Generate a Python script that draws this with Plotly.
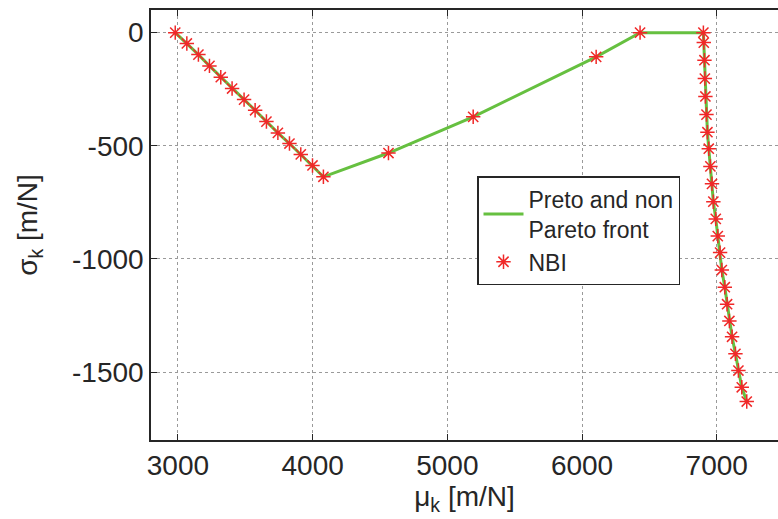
import plotly.graph_objects as go

# Pareto front samples: mu_k and sigma_k in [m/N]
mu_k = [2980, 3066, 3152, 3234, 3318, 3402, 3491, 3573, 3657, 3742, 3828,
        3912, 3999, 4080, 4563, 5192, 6105, 6431, 6901, 6904, 6909, 6912,
        6916, 6924, 6931, 6941, 6953, 6965, 6975, 6993, 7008, 7025, 7038,
        7060, 7077, 7094, 7114, 7139, 7161, 7186, 7223]
sigma_k = [0, -48, -97, -147, -197, -247, -296, -343, -393, -443, -490,
           -538, -587, -637, -532, -372, -107, 0, 0, -44, -122, -203,
           -282, -362, -440, -513, -591, -668, -747, -823, -899, -972, -1049,
           -1125, -1200, -1274, -1344, -1419, -1493, -1567, -1630]

x_ticks = [3000, 4000, 5000, 6000, 7000]
y_ticks = [0, -500, -1000, -1500]
y_tick_text = ["0", "-500", "-1000", "-1500"]

FONT = "Liberation Sans, Arial, sans-serif"
TXT = "#262626"

fig = go.Figure()
fig.add_trace(go.Scatter(
    x=mu_k, y=sigma_k, mode="lines",
    name="Preto and non<br>Pareto front",
    line=dict(color="#66c040", width=3),
))
fig.add_trace(go.Scatter(
    x=mu_k, y=sigma_k, mode="markers", name="NBI",
    marker=dict(symbol="asterisk-open", size=12, color="#f02828",
                line=dict(color="#f02828", width=1.5)),
))

axis_common = dict(
    showline=True, linecolor="#262626", linewidth=1.5,
    ticks="inside", ticklen=6, tickcolor="#262626", tickwidth=1,
    showgrid=True, gridcolor="#9a9a9a", griddash="dot", gridwidth=1,
    zeroline=False,
    tickfont=dict(family=FONT, size=28, color=TXT),
)

fig.update_layout(
    width=778, height=519,
    margin=dict(l=151, r=0, t=10, b=79),
    paper_bgcolor="white", plot_bgcolor="white",
    showlegend=True,
    legend=dict(
        x=(477 - 151) / 627, y=1 - (176 - 10) / 430,
        xanchor="left", yanchor="top",
        bgcolor="white", bordercolor="#262626", borderwidth=1.5,
        font=dict(family=FONT, size=23, color=TXT),
        itemwidth=40, tracegroupgap=0,
    ),
    xaxis=dict(
        **axis_common,
        range=[2800, 7455], tickvals=x_ticks, mirror="allticks",
        title=dict(text="μ<sub>k</sub> [m/N]", standoff=0,
                   font=dict(family=FONT, size=28, color=TXT)),
    ),
    yaxis=dict(
        **axis_common,
        range=[-1800, 100], tickvals=y_ticks, ticktext=y_tick_text,
        mirror=False,
        title=dict(text="σ<sub>k</sub> [m/N]", standoff=26,
                   font=dict(family=FONT, size=28, color=TXT)),
    ),
)

fig.write_html("out.html")
